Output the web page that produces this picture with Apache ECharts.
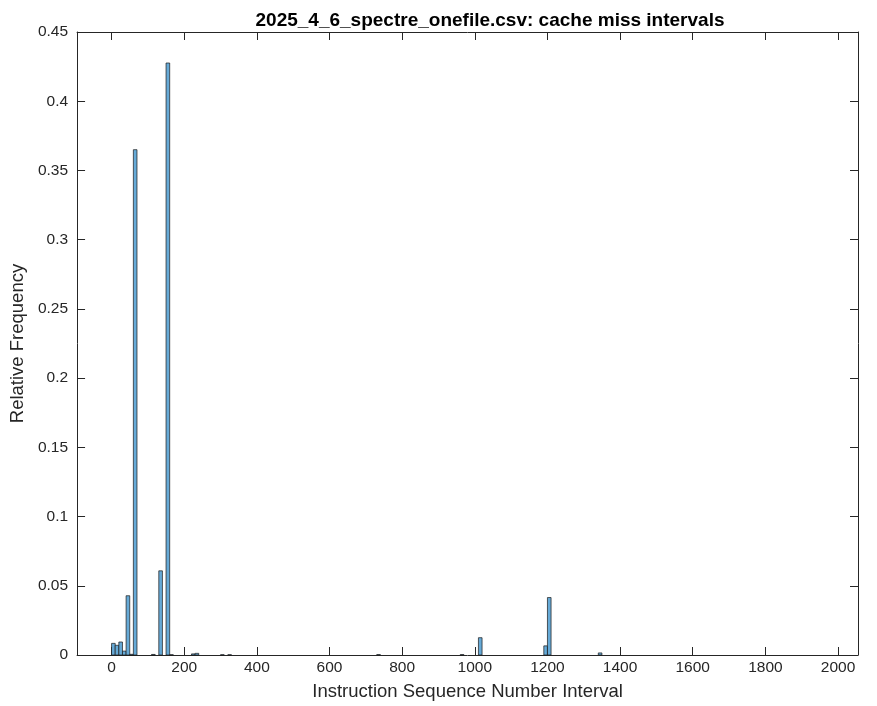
<!DOCTYPE html>
<html>
<head>
<meta charset="utf-8">
<script src="https://cdn.jsdelivr.net/npm/echarts@6/dist/echarts.min.js"></script>
<style>
html,body{margin:0;padding:0;background:#fff;}
#chart{width:877px;height:706px;}
</style>
</head>
<body>
<div id="chart"></div>
<script>
// Histogram bins (bin width 10), start of each non-empty bin and its relative frequency
var binWidth = 10;
var binStarts = [0, 10, 20, 30, 40, 50, 60, 110, 130, 150, 160, 220, 230, 300, 320, 730, 960, 1010, 1190, 1200, 1340];
var freqs = [0.0084, 0.0070, 0.0094, 0.0028, 0.0428, 0.0005, 0.3650, 0.0004, 0.0608, 0.4276, 0.0002, 0.0008, 0.0012, 0.0002, 0.0002, 0.0003, 0.0003, 0.0125, 0.0066, 0.0415, 0.0015];
var xTicks = [0, 200, 400, 600, 800, 1000, 1200, 1400, 1600, 1800, 2000];
var yTicks = [0, 0.05, 0.1, 0.15, 0.2, 0.25, 0.3, 0.35, 0.4, 0.45];

var data = binStarts.map(function (s, i) { return [s, s + binWidth, freqs[i]]; });

var font = "'Liberation Sans', Arial, Helvetica, sans-serif";
var axisColor = '#262626';

var chart = echarts.init(document.getElementById('chart'), null, {renderer: 'canvas'});
chart.setOption({
  animation: false,
  backgroundColor: '#fff',
  title: {
    text: '2025_4_6_spectre_onefile.csv: cache miss intervals',
    left: 485, textAlign: 'center', top: 6,
    textStyle: {fontFamily: font, fontSize: 19, fontWeight: 'bold', color: '#000'}
  },
  grid: {left: 77, right: 19, top: 32, bottom: 47, containLabel: false},
  xAxis: [{
    type: 'value', min: -95, max: 2055,
    name: 'Instruction Sequence Number Interval', nameLocation: 'middle', nameGap: 27,
    nameTextStyle: {fontFamily: font, fontSize: 18.5, color: axisColor},
    splitLine: {show: false},
    axisLine: {show: true, onZero: false, lineStyle: {color: axisColor, width: 1}},
    axisTick: {show: true, inside: true, length: 8, customValues: xTicks, lineStyle: {color: axisColor}},
    axisLabel: {customValues: xTicks, fontFamily: font, fontSize: 15.5, color: axisColor, margin: 5,
      formatter: function (v) { return String(v); }}
  }, {
    type: 'value', min: -95, max: 2055, position: 'top',
    splitLine: {show: false},
    axisLine: {show: true, onZero: false, lineStyle: {color: axisColor, width: 1}},
    axisTick: {show: true, inside: true, length: 8, customValues: xTicks, lineStyle: {color: axisColor}},
    axisLabel: {show: false}
  }],
  yAxis: [{
    type: 'value', min: 0, max: 0.45, interval: 0.05,
    name: 'Relative Frequency', nameLocation: 'middle', nameGap: 49,
    nameTextStyle: {fontFamily: font, fontSize: 18.5, color: axisColor},
    splitLine: {show: false},
    axisLine: {show: true, onZero: false, lineStyle: {color: axisColor, width: 1}},
    axisTick: {show: true, inside: true, length: 8, lineStyle: {color: axisColor}},
    axisLabel: {fontFamily: font, fontSize: 15.5, color: axisColor, margin: 9,
      formatter: function (v) { return String(+v.toFixed(2)); }}
  }, {
    type: 'value', min: 0, max: 0.45, interval: 0.05, position: 'right',
    splitLine: {show: false},
    axisLine: {show: true, onZero: false, lineStyle: {color: axisColor, width: 1}},
    axisTick: {show: true, inside: true, length: 8, lineStyle: {color: axisColor}},
    axisLabel: {show: false}
  }],
  series: [{
    type: 'custom',
    xAxisIndex: 0, yAxisIndex: 0,
    data: data,
    encode: {x: [0, 1], y: 2},
    renderItem: function (params, api) {
      var p0 = api.coord([api.value(0), 0]);
      var p1 = api.coord([api.value(1), api.value(2)]);
      return {
        type: 'rect',
        shape: {x: p0[0], y: p1[1], width: p1[0] - p0[0], height: p0[1] - p1[1]},
        style: {fill: 'rgb(102,170,215)', stroke: '#1a1a1a', lineWidth: 0.7}
      };
    }
  }]
});
</script>
</body>
</html>
